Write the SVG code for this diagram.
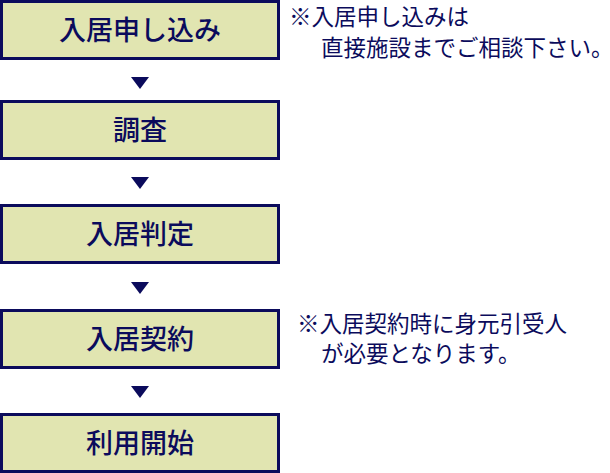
<svg xmlns="http://www.w3.org/2000/svg" width="610" height="473" viewBox="0 0 610 473">
<style>
.b{fill:#e1e5b1;stroke:#0b0b5c;stroke-width:3}
.t{font-family:"Noto Sans CJK JP",sans-serif;font-size:27px;font-weight:500;fill:#0b0b5c;text-anchor:middle}
.n{font-family:"Noto Sans CJK JP",sans-serif;font-size:22.5px;fill:#0b0b5c}
.a{fill:#0b0b5c}
</style>
<g id="n1"><rect class="b" x="1.5" y="1.5" width="277" height="57"/><text class="t" x="140" y="40">入居申し込み</text></g>
<g id="n2"><rect class="b" x="1.5" y="101.5" width="277" height="57"/><text class="t" x="140" y="140">調査</text></g>
<g id="n3"><rect class="b" x="1.5" y="205.5" width="277" height="57"/><text class="t" x="140" y="244">入居判定</text></g>
<g id="n4"><rect class="b" x="1.5" y="310.5" width="277" height="57"/><text class="t" x="140" y="349">入居契約</text></g>
<g id="n5"><rect class="b" x="1.5" y="414.5" width="277" height="57"/><text class="t" x="140" y="453">利用開始</text></g>
<g id="connectors">
<polygon class="a" points="131,77 149,77 140,89"/>
<polygon class="a" points="131,177 149,177 140,189"/>
<polygon class="a" points="131,282 149,282 140,294"/>
<polygon class="a" points="131,386 149,386 140,398"/>
</g>
<g id="notes">
<text class="n" x="289" y="25">※入居申し込みは</text>
<text class="n" x="321" y="56">直接施設までご相談下さい。</text>
<text class="n" x="297" y="332">※入居契約時に身元引受人</text>
<text class="n" x="321" y="362">が必要となります。</text>
</g>
</svg>
